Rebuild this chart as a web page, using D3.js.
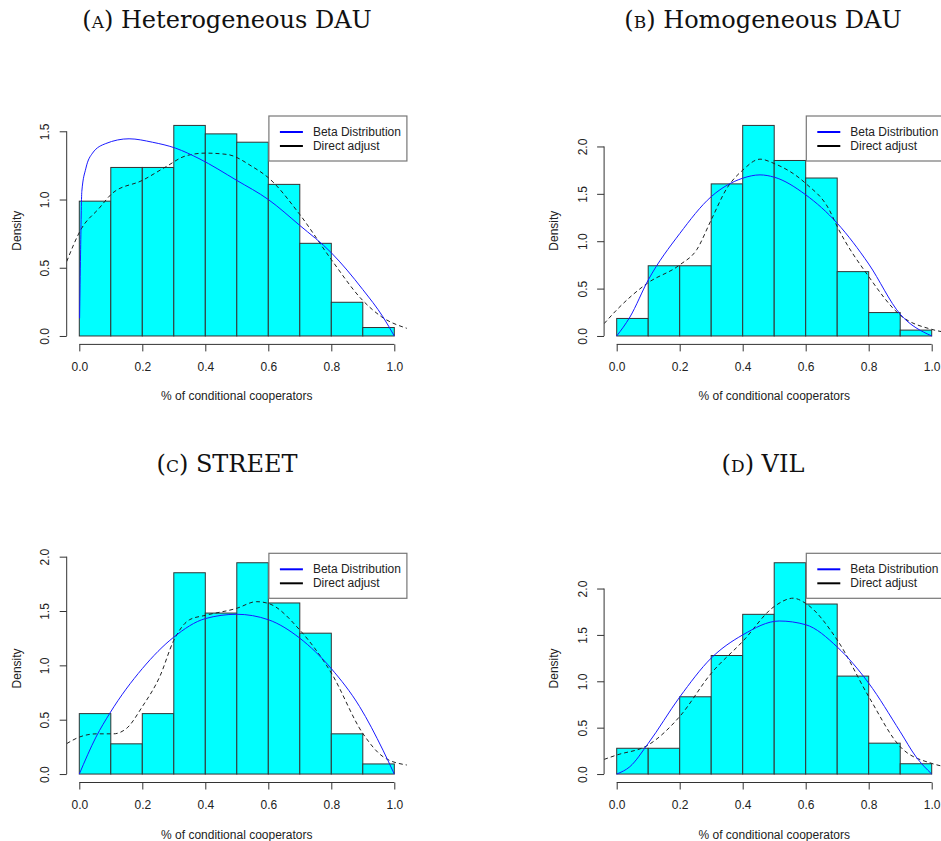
<!DOCTYPE html>
<html>
<head>
<meta charset="utf-8">
<script src="https://cdn.jsdelivr.net/npm/d3@7"></script>
<style>
  body { margin: 0; background: #fff; }
  text { font-family: "Liberation Sans", Arial, sans-serif; }
</style>
</head>
<body>
<div id="chart"></div>
<script>
// bin edges shared by all four histograms
const binEdges = [0, 0.1, 0.2, 0.3, 0.4, 0.5, 0.6, 0.7, 0.8, 0.9, 1.0];
const xTicks = [0, 0.2, 0.4, 0.6, 0.8, 1.0];

// histogram densities
const densA = [0.988, 1.235, 1.235, 1.543, 1.481, 1.42, 1.111, 0.679, 0.247, 0.062];
const densB = [0.185, 0.741, 0.741, 1.605, 2.222, 1.852, 1.667, 0.679, 0.247, 0.062];
const densC = [0.556, 0.278, 0.556, 1.852, 1.481, 1.944, 1.574, 1.296, 0.37, 0.093];
const densD = [0.278, 0.278, 0.833, 1.278, 1.722, 2.278, 1.833, 1.056, 0.333, 0.111];

// fitted beta curves (blue)
const betaA = [[0.001, 0.13], [0.004, 0.6], [0.008, 1.06], [0.021, 1.23], [0.042, 1.34], [0.084, 1.41],
  [0.158, 1.445], [0.232, 1.42], [0.306, 1.376], [0.38, 1.3], [0.5, 1.14], [0.6, 1.0],
  [0.7, 0.81], [0.8, 0.61], [0.9, 0.34], [0.964, 0.14], [1.0, 0]];
const betaB = [[0, 0], [0.042, 0.2], [0.1, 0.59], [0.2, 1.08], [0.3, 1.47], [0.4, 1.665], [0.455, 1.7],
  [0.5, 1.676], [0.6, 1.49], [0.7, 1.19], [0.8, 0.76], [0.9, 0.23], [1.0, 0]];
const betaC = [[0, 0], [0.053, 0.34], [0.097, 0.56], [0.2, 0.97], [0.3, 1.26], [0.4, 1.43], [0.5, 1.47],
  [0.6, 1.42], [0.7, 1.25], [0.8, 0.97], [0.89, 0.62], [0.964, 0.22], [1.0, 0]];
const betaD = [[0, 0], [0.042, 0.08], [0.1, 0.33], [0.2, 0.83], [0.3, 1.25], [0.4, 1.5], [0.516, 1.65],
  [0.6, 1.61], [0.7, 1.37], [0.8, 0.98], [0.9, 0.457], [0.95, 0.187], [1.0, 0]];

// kernel density curves (dashed)
const kdeA = [[-0.04, 0.545], [0.005, 0.78], [0.063, 0.936], [0.105, 1.046], [0.2, 1.14], [0.275, 1.24],
  [0.338, 1.32], [0.4, 1.34], [0.47, 1.33], [0.55, 1.24], [0.6, 1.16], [0.7, 0.89], [0.8, 0.56],
  [0.9, 0.26], [0.96, 0.14], [1.04, 0.056]];
const kdeB = [[-0.04, 0.13], [0, 0.275], [0.097, 0.556], [0.2, 0.75], [0.254, 0.91], [0.3, 1.225],
  [0.35, 1.56], [0.4, 1.75], [0.455, 1.866], [0.5, 1.82], [0.6, 1.61], [0.675, 1.33], [0.7, 1.155],
  [0.8, 0.627], [0.9, 0.22], [1.0, 0.07], [1.04, 0.04]];
const kdeC = [[-0.04, 0.28], [0, 0.34], [0.055, 0.37], [0.108, 0.37], [0.15, 0.42], [0.2, 0.62],
  [0.256, 0.9], [0.3, 1.23], [0.35, 1.42], [0.4, 1.46], [0.5, 1.525], [0.562, 1.586], [0.6, 1.57],
  [0.7, 1.325], [0.8, 0.93], [0.9, 0.374], [0.964, 0.16], [1.04, 0.083]];
const kdeD = [[-0.04, 0.158], [0, 0.205], [0.1, 0.313], [0.2, 0.62], [0.3, 1.086], [0.4, 1.43],
  [0.5, 1.806], [0.56, 1.896], [0.6, 1.84], [0.7, 1.446], [0.8, 0.835], [0.9, 0.295], [1.0, 0.115],
  [1.04, 0.08]];

const yTicksA = [0, 0.5, 1.0, 1.5];
const yTicksB = [0, 0.5, 1.0, 1.5, 2.0];

const titles = [["a", "Heterogeneous DAU"], ["b", "Homogeneous DAU"], ["c", "STREET"], ["d", "VIL"]];
const legendLabels = ["Beta Distribution", "Direct adjust"];

const width = 941, height = 841;

const svg = d3
  .select("#chart")
  .append("svg")
  .attr("width", width)
  .attr("height", height);

// plot regions (R style: x range padded 4% each side)
const panels = [
  { dens: densA, beta: betaA, kde: kdeA, yTicks: yTicksA, left: 66.7, right: 406.9, top: 117, bottom: 344.4, tx: 227, ty: 28 },
  { dens: densB, beta: betaB, kde: kdeB, yTicks: yTicksB, left: 604.1, right: 944.3, top: 117, bottom: 344.4, tx: 763, ty: 28 },
  { dens: densC, beta: betaC, kde: kdeC, yTicks: yTicksB, left: 66.7, right: 406.9, top: 554.3, bottom: 782.5, tx: 227, ty: 472 },
  { dens: densD, beta: betaD, kde: kdeD, yTicks: yTicksB, left: 604.1, right: 944.3, top: 554.3, bottom: 782.5, tx: 763, ty: 472 },
];

panels.forEach((p, i) => {
  let ymax = d3.max(p.dens);

  let x = d3.scaleLinear().domain([-0.04, 1.04]).range([p.left, p.right]);
  let y = d3.scaleLinear().domain([-0.04 * ymax, 1.04 * ymax]).range([p.bottom, p.top]);

  let g = svg.append("g");

  // title with small-caps letter
  let t = g.append("text")
    .attr("x", p.tx)
    .attr("y", p.ty)
    .attr("text-anchor", "middle")
    .style("font-family", "'DejaVu Serif', serif")
    .style("font-size", "24px")
    .attr("fill", "#111");
  t.append("tspan").text("(");
  t.append("tspan").text(titles[i][0]).style("font-variant", "small-caps");
  t.append("tspan").text(") " + titles[i][1]);

  // bars
  g.selectAll("rect.bar")
    .data(p.dens)
    .join("rect")
    .attr("class", "bar")
    .attr("x", (d, j) => x(binEdges[j]))
    .attr("width", (d, j) => x(binEdges[j + 1]) - x(binEdges[j]))
    .attr("y", (d) => y(d))
    .attr("height", (d) => y(0) - y(d))
    .attr("fill", "#00ffff")
    .attr("stroke", "#333")
    .attr("stroke-width", 1);

  // clip curves to the plot region
  svg.append("clipPath")
    .attr("id", "clip" + i)
    .append("rect")
    .attr("x", p.left)
    .attr("y", p.top)
    .attr("width", p.right - p.left)
    .attr("height", p.bottom - p.top);

  let line = d3.line()
    .x((d) => x(d[0]))
    .y((d) => y(d[1]))
    .curve(d3.curveMonotoneX);

  g.append("path")
    .datum(p.kde)
    .attr("clip-path", `url(#clip${i})`)
    .attr("d", line)
    .attr("fill", "none")
    .attr("stroke", "#222")
    .attr("stroke-width", 1)
    .attr("stroke-dasharray", "4,3");

  g.append("path")
    .datum(p.beta)
    .attr("clip-path", `url(#clip${i})`)
    .attr("d", line)
    .attr("fill", "none")
    .attr("stroke", "#1a1aff")
    .attr("stroke-width", 1);

  // x axis
  let xa = g.append("g")
    .attr("transform", `translate(0,${p.bottom})`)
    .call(d3.axisBottom(x).tickValues(xTicks).tickSize(7).tickPadding(11).tickFormat(d3.format(".1f")));
  xa.select(".domain").remove();
  xa.append("line")
    .attr("x1", x(xTicks[0]))
    .attr("x2", x(xTicks[xTicks.length - 1]))
    .attr("stroke", "#333");
  xa.selectAll(".tick line").attr("stroke", "#333");
  xa.selectAll("text")
    .style("font-family", "'Liberation Sans', Arial, sans-serif")
    .style("font-size", "12px")
    .attr("fill", "#222");

  // y axis, labels turned like R's default
  let ya = g.append("g")
    .attr("transform", `translate(${p.left},0)`)
    .call(d3.axisLeft(y).tickValues(p.yTicks).tickSize(7).tickFormat(d3.format(".1f")));
  ya.select(".domain").remove();
  ya.append("line")
    .attr("y1", y(p.yTicks[0]))
    .attr("y2", y(p.yTicks[p.yTicks.length - 1]))
    .attr("stroke", "#333");
  ya.selectAll(".tick line").attr("stroke", "#333");
  ya.selectAll("text")
    .attr("x", null)
    .attr("dy", "0.35em")
    .attr("transform", "translate(-21.7,0) rotate(-90)")
    .attr("text-anchor", "middle")
    .style("font-family", "'Liberation Sans', Arial, sans-serif")
    .style("font-size", "12px")
    .attr("fill", "#222");

  // axis titles
  g.append("text")
    .attr("x", (p.left + p.right) / 2)
    .attr("y", p.bottom + 56)
    .attr("text-anchor", "middle")
    .style("font-size", "12px")
    .attr("fill", "#222")
    .text("% of conditional cooperators");

  g.append("text")
    .attr("transform", `translate(${p.left - 50},${(p.top + p.bottom) / 2}) rotate(-90)`)
    .attr("dy", "0.35em")
    .attr("text-anchor", "middle")
    .style("font-size", "12px")
    .attr("fill", "#222")
    .text("Density");

  // legend in the top right corner of the plot region
  let lg = g.append("g").attr("transform", `translate(${p.right - 138},${p.top - 1})`);
  lg.append("rect")
    .attr("width", 138)
    .attr("height", 45)
    .attr("fill", "#fff")
    .attr("stroke", "#777")
    .attr("stroke-width", 1.2);
  legendLabels.forEach((lab, k) => {
    lg.append("line")
      .attr("x1", 11)
      .attr("x2", 34)
      .attr("y1", 16 + k * 14)
      .attr("y2", 16 + k * 14)
      .attr("stroke", k === 0 ? "#0000ff" : "#000")
      .attr("stroke-width", 2);
    lg.append("text")
      .attr("x", 44)
      .attr("y", 16 + k * 14)
      .attr("dy", "0.35em")
      .style("font-size", "12px")
      .attr("fill", "#222")
      .text(lab);
  });
});
</script>
</body>
</html>
